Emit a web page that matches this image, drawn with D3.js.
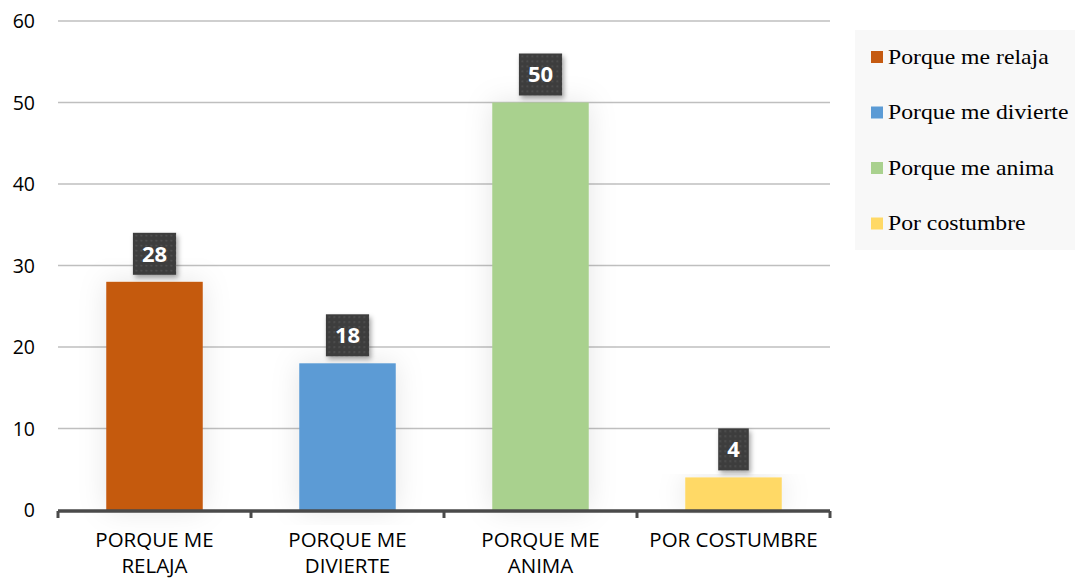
<!DOCTYPE html>
<html>
<head>
<meta charset="utf-8">
<script src="https://cdn.jsdelivr.net/npm/d3@7"></script>
<style>
  html, body { margin: 0; padding: 0; background: #fff; }
  svg { display: block; }
</style>
</head>
<body>
<svg id="chart" width="1075" height="579"></svg>
<script>
// Survey responses: reasons given
const categories = ["PORQUE ME RELAJA", "PORQUE ME DIVIERTE", "PORQUE ME ANIMA", "POR COSTUMBRE"];
const categoryLines = [["PORQUE ME", "RELAJA"], ["PORQUE ME", "DIVIERTE"], ["PORQUE ME", "ANIMA"], ["POR COSTUMBRE"]];
const values = [28, 18, 50, 4];
const legendLabels = ["Porque me relaja", "Porque me divierte", "Porque me anima", "Por costumbre"];
const colors = ["#C55A11", "#5B9BD5", "#A9D18E", "#FFD966"];
const yTicks = [0, 10, 20, 30, 40, 50, 60];

const svg = d3.select("#chart");
const margin = { left: 58, right: 245, top: 21, bottom: 69 };
const W = 1075, H = 579;
const sans = "'Open Sans', 'Noto Sans', sans-serif";

const x = d3.scaleBand().domain(categories).range([margin.left, W - margin.right]).paddingInner(0.5).paddingOuter(0.25);
const xOuter = d3.scaleBand().domain(categories).range([margin.left, W - margin.right]);
const y = d3.scaleLinear().domain([0, 60]).range([H - margin.bottom, margin.top]);

const defs = svg.append("defs");
const pat = defs.append("pattern").attr("id", "dots").attr("patternUnits", "userSpaceOnUse")
  .attr("width", 5).attr("height", 5);
pat.append("rect").attr("width", 5).attr("height", 5).attr("fill", "#3d3d3d");
pat.append("rect").attr("x", 1).attr("y", 1).attr("width", 1.6).attr("height", 1.6).attr("fill", "#555");

const shadow = defs.append("filter").attr("id", "shadow").attr("x", "-30%").attr("y", "-30%").attr("width", "170%").attr("height", "170%");
shadow.append("feDropShadow").attr("dx", 2).attr("dy", 3).attr("stdDeviation", 2.5).attr("flood-color", "#000").attr("flood-opacity", 0.35);

const barGlow = defs.append("filter").attr("id", "glow").attr("x", "-50%").attr("y", "-10%").attr("width", "200%").attr("height", "120%");
barGlow.append("feDropShadow").attr("dx", 0).attr("dy", 0).attr("stdDeviation", 14).attr("flood-color", "#000").attr("flood-opacity", 0.1);

// Gridlines
svg.append("g").selectAll("line").data(yTicks.filter(t => t > 0)).join("line")
  .attr("x1", margin.left).attr("x2", W - margin.right)
  .attr("y1", d => y(d)).attr("y2", d => y(d))
  .attr("stroke", "#bfbfbf").attr("stroke-width", 1.3);

// Y axis labels
svg.append("g").selectAll("text").data(yTicks).join("text")
  .attr("x", 35).attr("y", d => y(d)).attr("dy", "0.36em")
  .attr("text-anchor", "end")
  .attr("font-family", sans).attr("font-size", 19.5).attr("fill", "#000")
  .text(d => d);

// Bars
svg.append("g").selectAll("rect").data(values).join("rect")
  .attr("x", (d, i) => x(categories[i]))
  .attr("width", x.bandwidth())
  .attr("y", d => y(d))
  .attr("height", d => y(0) - y(d))
  .attr("fill", (d, i) => colors[i])
  .attr("filter", "url(#glow)");

// X axis
const axisY = y(0) + 1;
svg.append("line").attr("x1", margin.left).attr("x2", W - margin.right)
  .attr("y1", axisY).attr("y2", axisY).attr("stroke", "#4a4a4a").attr("stroke-width", 3.5);
const boundaries = categories.map(c => xOuter(c)).concat([W - margin.right]);
svg.append("g").selectAll("line").data(boundaries).join("line")
  .attr("x1", d => d).attr("x2", d => d)
  .attr("y1", axisY).attr("y2", axisY + 7)
  .attr("stroke", "#4a4a4a").attr("stroke-width", 3);

// Category labels
const catG = svg.append("g").selectAll("text").data(categoryLines).join("text")
  .attr("text-anchor", "middle")
  .attr("font-family", sans).attr("font-size", 20.5).attr("fill", "#000");
catG.each(function (lines, i) {
  const cx = x(categories[i]) + x.bandwidth() / 2;
  d3.select(this).selectAll("tspan").data(lines).join("tspan")
    .attr("x", cx).attr("y", (d, j) => 547 + j * 26).text(d => d);
});

// Value labels
const lblG = svg.append("g").selectAll("g").data(values).join("g")
  .attr("transform", (d, i) => `translate(${x(categories[i]) + x.bandwidth() / 2},${y(d) - 28})`);
lblG.append("rect")
  .attr("x", d => -(String(d).length * 12.6 + 18) / 2)
  .attr("width", d => String(d).length * 12.6 + 18)
  .attr("y", -21).attr("height", 42)
  .attr("fill", "url(#dots)").attr("filter", "url(#shadow)");
lblG.append("text").attr("text-anchor", "middle").attr("dy", "0.36em")
  .attr("font-family", sans).attr("font-weight", "bold")
  .attr("font-size", 22).attr("fill", "#fff").text(d => d);

// Legend
const legend = svg.append("g");
legend.append("rect").attr("x", 855).attr("y", 30).attr("width", 220).attr("height", 220).attr("fill", "#f8f8f8");
const li = legend.selectAll("g").data(legendLabels).join("g")
  .attr("transform", (d, i) => `translate(871,${57 + i * 55.5})`);
li.append("rect").attr("x", 0).attr("y", -6).attr("width", 12).attr("height", 12).attr("fill", (d, i) => colors[i]);
li.append("text").attr("transform", "translate(17,0) scale(1.13,1)").attr("dy", "0.33em")
  .attr("font-family", "'Liberation Serif', 'Times New Roman', serif").attr("font-size", 21).attr("fill", "#000")
  .text(d => d);
</script>
</body>
</html>
